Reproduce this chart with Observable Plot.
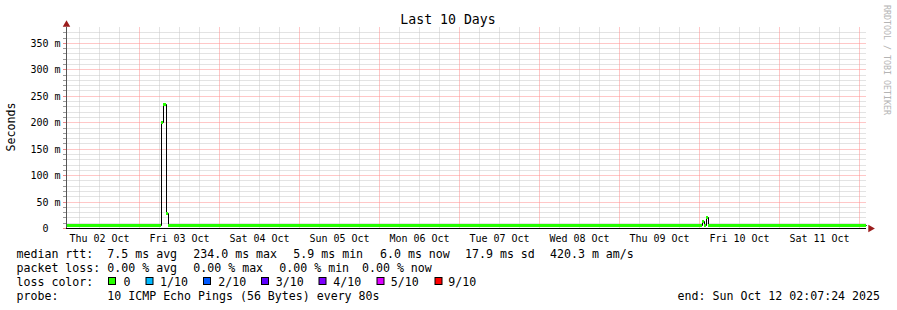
<!DOCTYPE html>
<html><head><meta charset="utf-8">
<script src="https://cdn.jsdelivr.net/npm/d3@7"></script>
<script src="https://cdn.jsdelivr.net/npm/@observablehq/plot@0.6"></script>
<style>
body{margin:0;background:#fff;}
#wrap{position:relative;width:897px;height:310px;overflow:hidden;background:#fff;}
#wrap svg{position:absolute;left:0;top:0;}
</style></head><body><div id="wrap"></div>
<script>
const title = "Last 10 Days";
const yLabel = "Seconds";
const startTime = "2025-10-02T02:07:24";
const endTime = "2025-10-12T02:07:24";
// median RTT (ms), step-after breakpoints
const medianTimes = ["2025-10-02T02:07:24","2025-10-03T06:40","2025-10-03T07:08","2025-10-03T08:02","2025-10-03T08:38","2025-10-10T01:03","2025-10-10T01:39","2025-10-10T02:15","2025-10-10T02:42","2025-10-12T02:07:24"];
const medianMs = [6.0, 200, 234, 29, 6.0, 13, 6.0, 20, 6.0, 6.0];
const yTicks = [0, 50, 100, 150, 200, 250, 300, 350];
const yMax = 380;
const dayLabels = ["Thu 02 Oct","Fri 03 Oct","Sat 04 Oct","Sun 05 Oct","Mon 06 Oct","Tue 07 Oct","Wed 08 Oct","Thu 09 Oct","Fri 10 Oct","Sat 11 Oct"];
const dayNoons = ["2025-10-02T12:00","2025-10-03T12:00","2025-10-04T12:00","2025-10-05T12:00","2025-10-06T12:00","2025-10-07T12:00","2025-10-08T12:00","2025-10-09T12:00","2025-10-10T12:00","2025-10-11T12:00"];
const lossLabels = ["0","1/10","2/10","3/10","4/10","5/10","9/10"];
const lossColors = ["#26ff00","#00b8ff","#0059ff","#5e00ff","#7e00ff","#dd00ff","#ff0000"];
const rttStats = ["7.5 ms avg","234.0 ms max","5.9 ms min","6.0 ms now","17.9 ms sd","420.3 m am/s"];
const lossStats = ["0.00 % avg","0.00 % max","0.00 % min","0.00 % now"];
const rowLabels = ["median rtt:","packet loss:","loss color:","probe:"];
const probeText = "10 ICMP Echo Pings (56 Bytes) every 80s";
const endText = "end: Sun Oct 12 02:07:24 2025";
const credit = "RRDTOOL / TOBI OETIKER";

const start = new Date(startTime), end = new Date(endTime);
const pts = medianTimes.map((t, i) => ({t: new Date(t), v: medianMs[i]}));
const segs = pts.slice(0, -1).map((p, i) => ({t1: p.t, t2: pts[i + 1].t, v: p.v}));
const noons = dayNoons.map(d => new Date(d));
const labelOf = new Map(noons.map((d, i) => [+d, dayLabels[i]]));
const sixHours = d3.timeHour.every(6).range(start, end).filter(d => d.getHours() !== 0);
const midnights = d3.timeDay.range(start, end);
const minorY = d3.range(10, yMax, 10).filter(v => v % 50 !== 0);
const gray = "#c6c6c6", pink = "#ff8e8e";
const dots = {strokeDasharray: "1,1", strokeDashoffset: 0.5};

const chart = Plot.plot({
  width: 897, height: 248,
  marginLeft: 66, marginRight: 31, marginTop: 27, marginBottom: 20,
  style: {fontFamily: "'DejaVu Sans Mono', monospace", fontSize: "10px", color: "#000", background: "transparent"},
  x: {type: "time", domain: [start, end], axis: null, label: null, round: true},
  y: {domain: [0, yMax], axis: null, label: null, round: true},
  marks: [
    Plot.ruleX(sixHours, {stroke: gray, ...dots}),
    Plot.ruleY(minorY, {stroke: gray, ...dots}),
    Plot.ruleY(yTicks.filter(v => v > 0), {stroke: pink, ...dots}),
    Plot.ruleX(midnights, {stroke: pink, ...dots}),
    Plot.line(pts, {x: "t", y: "v", curve: "step-after", stroke: "#000", strokeWidth: 1}),
    Plot.ruleY(segs, {y: "v", x1: "t1", x2: "t2", stroke: lossColors[0], strokeWidth: 3, strokeLinecap: "butt"}),
    Plot.ruleX([start], {stroke: "#555"}),
    Plot.ruleY([0], {stroke: "#000"}),
    Plot.axisY(yTicks, {tickSize: 0, tickPadding: 6, label: null, tickFormat: v => v === 0 ? "0\u00a0\u00a0" : v + " m", fill: "#000"}),
    Plot.axisY(minorY, {tickSize: 3, label: null, tickFormat: () => "", stroke: "#999"}),
    Plot.axisY(yTicks, {tickSize: 3, label: null, tickFormat: () => "", stroke: "#e88"}),
    Plot.axisX(noons, {tickSize: 0, tickPadding: 6, label: null, tickFormat: d => labelOf.get(+d), fill: "#000"}),
    Plot.dot([{t: start, v: yMax}], {x: "t", y: "v", symbol: "triangle", r: 2.8, fill: "#9b1c1c", dy: -3}),
    Plot.dot([{t: end, v: 0}], {x: "t", y: "v", symbol: "triangle", r: 2.8, fill: "#9b1c1c", rotate: 90, dx: 4})
  ]
});
const wrap = document.getElementById("wrap");
wrap.appendChild(chart);

// overlay for title, legend and captions
const svg = d3.select(wrap).append("svg").attr("width", 897).attr("height", 310)
  .style("font-family", "'DejaVu Sans Mono', monospace").style("pointer-events", "none");
svg.append("text").attr("x", 448).attr("y", 24).attr("text-anchor", "middle")
  .style("font-size", "13.2px").attr("fill", "#000").text(title);
svg.append("text").attr("transform", "translate(15,127) rotate(-90)").attr("text-anchor", "middle")
  .style("font-size", "11.6px").attr("fill", "#000").text(yLabel);
svg.append("text").attr("transform", "translate(884,5) rotate(90)").attr("text-anchor", "start")
  .style("font-size", "8.3px").attr("fill", "#b4b4b4").text(credit);

const lg = svg.append("g").style("font-size", "11.6px").attr("fill", "#000");
const rowY = [258.3, 272.3, 286.3, 300.3];
rowLabels.forEach((t, i) => lg.append("text").attr("x", 16.5).attr("y", rowY[i]).text(t));
const rttX = [107.3, 193.3, 293.3, 380, 465, 550];
rttStats.forEach((t, i) => lg.append("text").attr("x", rttX[i]).attr("y", rowY[0]).text(t));
const lossX = [107.3, 193.3, 279.3, 362];
lossStats.forEach((t, i) => lg.append("text").attr("x", lossX[i]).attr("y", rowY[1]).text(t));
const boxX = [108.5, 146, 203.5, 261.5, 319, 377, 435];
const boxLabelX = [123.5, 160, 218.3, 275.7, 333.3, 390.7, 448.3];
lossLabels.forEach((t, i) => {
  lg.append("rect").attr("x", boxX[i]).attr("y", 277.5).attr("width", 7).attr("height", 7)
    .attr("fill", lossColors[i]).attr("stroke", "#000").attr("stroke-width", 1);
  lg.append("text").attr("x", boxLabelX[i]).attr("y", rowY[2]).text(t);
});
lg.append("text").attr("x", 107.3).attr("y", rowY[3]).text(probeText);
lg.append("text").attr("x", 880).attr("y", rowY[3]).attr("text-anchor", "end").text(endText);
</script></body></html>
